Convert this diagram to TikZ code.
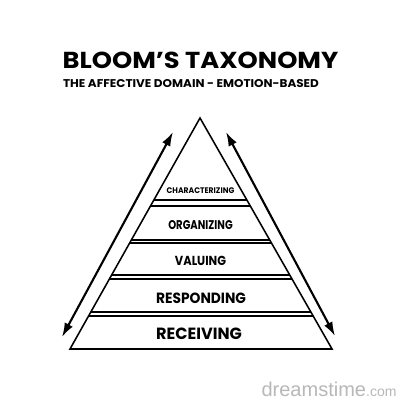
\documentclass[tikz,border=0pt]{standalone}
\usepackage{graphicx}
\usepackage{fontspec}
\setmainfont{Poppins}
\newfontfamily\wmfont{Liberation Sans}
\usetikzlibrary{arrows.meta,calc}
\newcommand{\fitlbl}[3]{\resizebox{#1pt}{#2pt}{#3}}
\tikzset{
  pyr/.style={line width=1.1pt, line join=miter},
  bandline/.style={line width=1.3pt},
  lbl/.style={inner sep=0pt, font=\bfseries},
  dirarrow/.style={line width=1.5pt, {Latex[length=10pt,width=6.5pt]}-{Latex[length=10pt,width=6.5pt]}},
  wm/.style={inner sep=0pt, text=black!28, font=\wmfont}
}
\begin{document}
\begin{tikzpicture}[x=0.025cm,y=-0.025cm]
\useasboundingbox (0,0) rectangle (400,400);
\fill[white] (0,0) rectangle (400,400);

% titles
\node[lbl] (title) at (200.5,60) {\fitlbl{196}{11.7}{BLOOM'S TAXONOMY}};
\node[lbl] (subtitle) at (191,83.3) {\fitlbl{182}{5.7}{THE AFFECTIVE DOMAIN - EMOTION-BASED}};

% pyramid
\coordinate (A) at (200,118);
\coordinate (BL) at (70,349);
\coordinate (BR) at (332,349);
\draw[pyr] (BL) -- (A) -- (BR) -- cycle;
\foreach \t in {0.355,0.381,0.528,0.541,0.680,0.697,0.840,0.857}{
  \draw[bandline] ($(A)!\t!(BL)$) -- ($(A)!\t!(BR)$);
}

% band labels
\node[lbl] (characterizing) at (200.5,190.5) {\fitlbl{48.1}{4.1}{CHARACTERIZING}};
\node[lbl] (organizing) at (200.5,225.5) {\fitlbl{45.8}{6.4}{ORGANIZING}};
\node[lbl] (valuing) at (200.5,261.3) {\fitlbl{36.3}{6.6}{VALUING}};
\node[lbl] (responding) at (201,298) {\fitlbl{64}{7.5}{RESPONDING}};
\node[lbl] (receiving) at (199,333.3) {\fitlbl{61}{8.2}{RECEIVING}};

% arrows
\coordinate (la) at (62,337);
\coordinate (lb) at (173,132);
\coordinate (ra) at (226,132);
\coordinate (rb) at (335,336);
\draw[dirarrow] (la) -- (lb);
\draw[dirarrow] (ra) -- (rb);

% watermark
\node[wm] (watermark) at (329,389) {\resizebox{96pt}{!}{dreamstime\scriptsize.com}};
\end{tikzpicture}
\end{document}
